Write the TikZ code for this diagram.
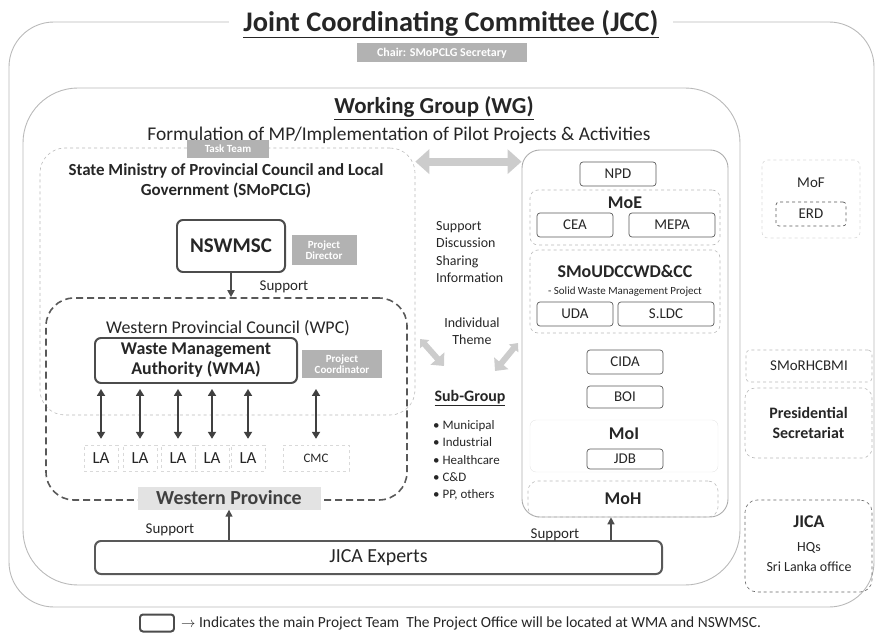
\documentclass[tikz,border=0pt]{standalone}
\usepackage{fontspec}
\setmainfont{Carlito}
\usepackage{tikz}
\usetikzlibrary{arrows.meta,calc,positioning}

\begin{document}
\begin{tikzpicture}[x=1bp, y=-1bp,
    every node/.style={text=black!85, inner sep=0pt, align=center},
    frame/.style={draw=gray!55, line width=0.9pt, rounded corners=#1},
    frame/.default=20bp,
    dashframe/.style={draw=gray!55, dashed, line width=0.6pt, rounded corners=#1},
    dashframe/.default=10bp,
    wpcframe/.style={draw=black!65, line width=1.6pt, dash pattern=on 7pt off 4pt, rounded corners=28bp},
    mainteam/.style={draw=black!70, line width=2pt, rounded corners=6bp, fill=white},
    unitbox/.style={draw=black!65, line width=0.7pt, rounded corners=3bp, minimum height=24bp, font=\fontsize{15}{17}\selectfont},
    greytag/.style={fill=gray!60, text=white, font=\fontsize{11}{11}\selectfont\bfseries},
    head/.style={font=\fontsize{18}{20}\selectfont\bfseries},
    lanode/.style={draw=gray!30, dashed, thin, minimum width=34bp, minimum height=26bp, font=\fontsize{17}{19}\selectfont},
    laarrow/.style={draw=black!75, line width=2.2pt, {Triangle[length=7pt,width=8pt]}-{Triangle[length=7pt,width=8pt]}},
    supparrow/.style={draw=black!70, line width=1.4pt, -{Triangle[length=7pt,width=7pt]}},
    fatarrow/.style={draw=gray!40, line width=8pt, {Triangle[length=14pt,width=24pt]}-{Triangle[length=14pt,width=24pt]}},
    smallfat/.style={draw=gray!40, line width=6pt, {Triangle[length=7pt,width=12pt]}-{Triangle[length=10pt,width=18pt]}}
  ]
  \useasboundingbox (0,0) rectangle (881,639);
  % JCC
  \node[frame=45bp, minimum width=865bp, minimum height=585bp] (jcc) at (441.5,314.5) {};
  \node[fill=white, inner xsep=14bp, inner ysep=3bp, font=\fontsize{28.5}{30}\selectfont\bfseries] (jcctitle) at (451,24) {\underline{Joint Coordinating Committee (JCC)}};
  \node[greytag, minimum width=170bp, minimum height=19bp, font=\fontsize{12}{12}\selectfont\bfseries] (chair) at (442,53) {Chair: SMoPCLG Secretary};

  % WG
  \node[frame=55bp, minimum width=717bp, minimum height=497bp] (wg) at (381.5,336.5) {};
  \node[font=\fontsize{23}{25}\selectfont\bfseries] (wgtitle) at (434,108) {\underline{Working Group (WG)}};
  \node[font=\fontsize{19.5}{21}\selectfont] (wgtask) at (399,135) {Formulation of MP/Implementation of Pilot Projects \& Activities};

  % SMoPCLG
  \node[dashframe=25bp, minimum width=375bp, minimum height=267bp] (smopclg) at (227.5,281.5) {};
  \node[greytag, minimum width=82bp, minimum height=18bp] (tasktag) at (228,149) {Task Team};
  \node[font=\fontsize{17}{19.5}\selectfont\bfseries] (smopclgtext) at (226,181) {State Ministry of Provincial Council and Local\\Government (SMoPCLG)};
  \node[mainteam, minimum width=108bp, minimum height=52bp, font=\fontsize{21}{23}\selectfont\bfseries] (nswmsc) at (231,246) {NSWMSC};
  \node[greytag, minimum width=65bp, minimum height=30bp] (pdtag) at (324,250) {Project\\Director};

  % WPC
  \node[wpcframe, minimum width=361bp, minimum height=202bp] (wpc) at (226.5,399) {};
  \draw[supparrow, line width=2.4pt] (nswmsc.south) -- (nswmsc.south |- wpc.north);
  \node[font=\fontsize{15}{17}\selectfont] (supp1) at (284,287) {Support};
  \node[font=\fontsize{18}{20}\selectfont] (wpctext) at (228,328) {Western Provincial Council (WPC)};
  \node[mainteam, minimum width=202bp, minimum height=45bp, font=\fontsize{18}{20}\selectfont\bfseries] (wma) at (196,360.5) {Waste Management\\Authority (WMA)};
  \node[greytag, minimum width=80bp, minimum height=28bp] (pctag) at (342,364) {Project\\Coordinator};

  % LA
  \foreach \x [count=\i] in {101,140,178,212,248}
    \node[lanode] (la\i) at (\x,458) {LA};
  \node[lanode, minimum width=66bp, font=\fontsize{13}{15}\selectfont] (cmc) at (316,458) {CMC};
  \foreach \n in {la1,la2,la3,la4,la5,cmc}
    \draw[laarrow, shorten <=5pt, shorten >=6pt] (\n.north |- wma.south) -- (\n.north);
  \node[fill=gray!22, minimum width=183bp, minimum height=23bp, font=\fontsize{20}{22}\selectfont\bfseries, text=black!75] (wp) at (229,498) {Western Province};

  % ministries
  \node[frame=18bp, draw=gray!65, minimum width=206bp, minimum height=367bp] (minbox) at (625,333.5) {};
  \node[unitbox, minimum width=76bp] (npd) at (618,174) {NPD};
  \node[dashframe=8bp, minimum width=190bp, minimum height=55bp] (moe) at (625,217.5) {};
  \node[head] (moetext) at (625,203) {MoE};
  \node[unitbox, minimum width=76bp] (cea) at (575,225) {CEA};
  \node[unitbox, minimum width=86bp] (mepa) at (672,225) {MEPA};
  \node[dashframe=8bp, minimum width=190bp, minimum height=83bp] (smoudcc) at (625,291.5) {};
  \node[head] (smoudcctext) at (625,271) {SMoUDCCWD\&CC};
  \node[font=\fontsize{11}{13}\selectfont] (swmp) at (625,292) {- Solid Waste Management Project};
  \node[unitbox, minimum width=76bp] (uda) at (575,314) {UDA};
  \node[unitbox, minimum width=96bp] (sldc) at (666,314) {S.LDC};
  \node[unitbox, minimum width=76bp] (cida) at (625,362) {CIDA};
  \node[unitbox, minimum width=76bp, minimum height=22bp] (boi) at (625,397) {BOI};
  \node[draw=gray!20, rounded corners=6bp, minimum width=188bp, minimum height=52bp] (moi) at (624,446) {};
  \node[head] (moitext) at (624,434) {MoI};
  \node[unitbox, minimum width=76bp, minimum height=20bp] (jdb) at (625,459) {JDB};
  \node[dashframe=10bp, minimum width=190bp, minimum height=36bp, head] (moh) at (623,499) {MoH};

  % between
  \draw[fatarrow] (smopclg.east |- npd.north) -- (minbox.west |- npd.north);
  \node[anchor=north west, align=left, font=\fontsize{14}{17.5}\selectfont] (discuss) at (436,221) {Support\\Discussion\\Sharing\\Information};
  \node[font=\fontsize{14}{17}\selectfont] (theme) at (472,331) {Individual\\Theme};
  \coordinate (tl1) at (420,339);
  \coordinate (tl2) at (444,366);
  \coordinate (tr1) at (518,343);
  \coordinate (tr2) at (495,371);
  \draw[smallfat] (tl1) -- (tl2);
  \draw[smallfat] (tr1) -- (tr2);
  \node[font=\fontsize{16}{18}\selectfont\bfseries] (subgroup) at (470,398) {\underline{Sub-Group}};
  \node[anchor=north west, align=left, font=\fontsize{13}{17.5}\selectfont] (themes) at (433,420) {• Municipal\\• Industrial\\• Healthcare\\• C\&D\\• PP, others};

  % outside WG
  \node[dashframe=6bp, draw=gray!30, minimum width=98bp, minimum height=78bp] (mof) at (811,199) {};
  \node[font=\fontsize{15}{17}\selectfont] (moftext) at (811,183) {MoF};
  \node[unitbox, dashed, minimum width=70bp] (erd) at (811,214) {ERD};
  \node[dashframe=4bp, minimum width=126bp, minimum height=32bp, font=\fontsize{15}{17}\selectfont] (smorhc) at (809,366) {SMoRHCBMI};
  \node[dashframe=10bp, minimum width=127bp, minimum height=70bp, font=\fontsize{16}{20}\selectfont\bfseries] (pres) at (808.5,423) {Presidential\\Secretariat};
  \node[dashframe=12bp, draw=black!60, minimum width=127bp, minimum height=92bp] (jica) at (808.5,546) {};
  \node[font=\fontsize{18}{20}\selectfont\bfseries] (jicatext) at (809,522) {JICA};
  \node[font=\fontsize{14}{20}\selectfont] (jicasub) at (809,557) {HQs\\Sri Lanka office};

  % JICA Experts
  \node[mainteam, draw=black!65, minimum width=567bp, minimum height=33bp, font=\fontsize{20}{22}\selectfont] (experts) at (378.5,557.5) {JICA Experts};
  \draw[supparrow] (experts.north -| wp) -- (wp.south);
  \node[font=\fontsize{15}{17}\selectfont] (supp2) at (170,530) {Support};
  \coordinate (mohfoot) at ($(moh.south)+(-12,0)$);
  \draw[supparrow] (experts.north -| mohfoot) -- (mohfoot);
  \node[font=\fontsize{15}{17}\selectfont] (supp3) at (555,535) {Support};

  % legend
  \node[mainteam, minimum width=34bp, minimum height=17bp, rounded corners=3bp] (legbox) at (157,623) {};
  \node[anchor=west, font=\fontsize{15.5}{17}\selectfont] (legtext) at (181,623) {$\rightarrow$ Indicates the main Project Team\ \ The Project Office will be located at WMA and NSWMSC.};
\end{tikzpicture}
\end{document}
